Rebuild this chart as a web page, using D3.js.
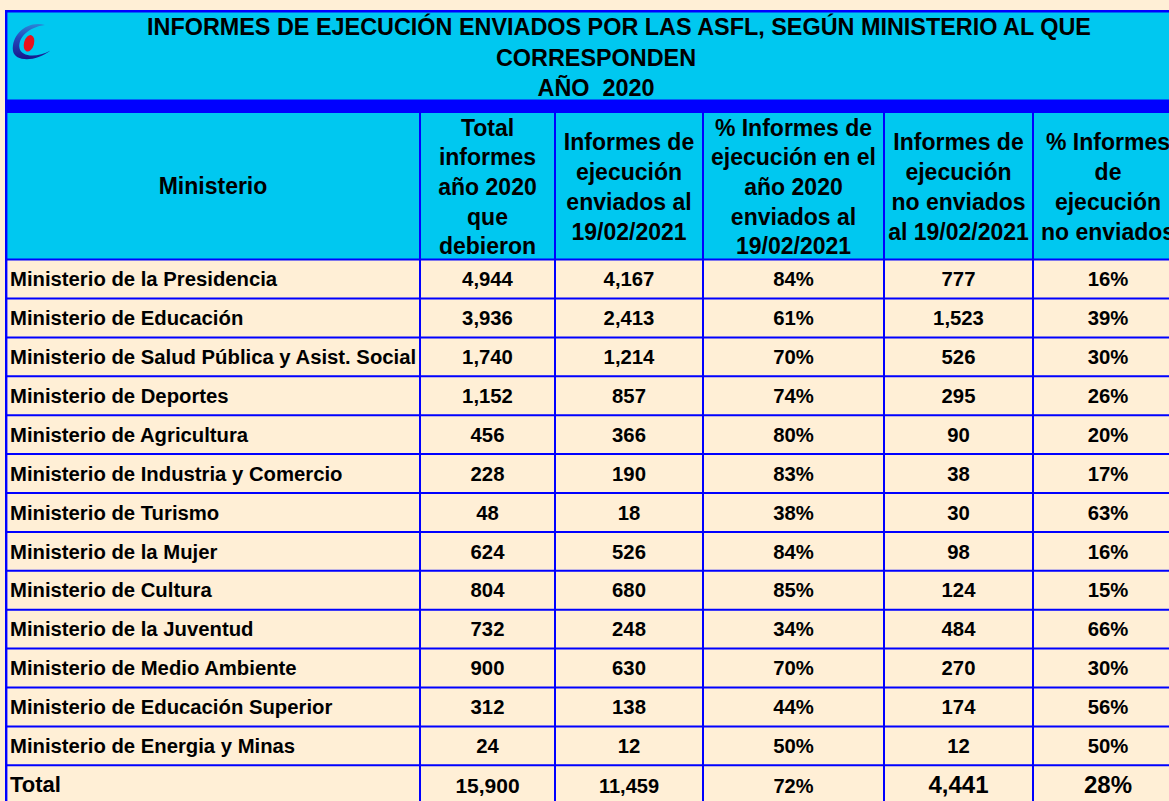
<!DOCTYPE html>
<html>
<head>
<meta charset="utf-8">
<script src="https://cdn.jsdelivr.net/npm/d3@7"></script>
<style>
body{
	margin:0;
	background-color:#ffefd6;
}
svg{display:block;}
text{font-family:"Liberation Sans",Arial,sans-serif;font-weight:bold;fill:#000;}
</style>
</head>
<body>
<div id="chart"></div>
<script>
var ministerios = [
	"Ministerio de la Presidencia",
	"Ministerio de Educación",
	"Ministerio de Salud Pública y Asist. Social",
	"Ministerio de Deportes",
	"Ministerio de Agricultura",
	"Ministerio de Industria y Comercio",
	"Ministerio de Turismo",
	"Ministerio de la Mujer",
	"Ministerio de Cultura",
	"Ministerio de la Juventud",
	"Ministerio de Medio Ambiente",
	"Ministerio de Educación Superior",
	"Ministerio de Energia y Minas"
];
var totalInformes = [4944, 3936, 1740, 1152, 456, 228, 48, 624, 804, 732, 900, 312, 24];
var enviados      = [4167, 2413, 1214, 857, 366, 190, 18, 526, 680, 248, 630, 138, 12];
var pctEnviados   = [84, 61, 70, 74, 80, 83, 38, 84, 85, 34, 70, 44, 50];
var noEnviados    = [777, 1523, 526, 295, 90, 38, 30, 98, 124, 484, 270, 174, 12];
var pctNoEnviados = [16, 39, 30, 26, 20, 17, 63, 16, 15, 66, 30, 56, 50];
var totales = {label:"Total", total:15900, enviados:11459, pct:72, no:4441, pctNo:28};

var titulo = [
	"INFORMES DE EJECUCIÓN ENVIADOS POR LAS ASFL, SEGÚN MINISTERIO AL QUE",
	"CORRESPONDEN",
	"AÑO  2020"
];
var encabezados = [
	["Ministerio"],
	["Total", "informes", "año 2020", "que", "debieron"],
	["Informes de", "ejecución", "enviados al", "19/02/2021"],
	["% Informes de", "ejecución en el", "año 2020", "enviados al", "19/02/2021"],
	["Informes de", "ejecución", "no enviados", "al 19/02/2021"],
	["% Informes", "de", "ejecución", "no enviados"]
];

var W = 1169, H = 801;
var BLUE = "#0000ff", CYAN = "#00c8f0", CREAM = "#ffefd6";
var colEdges = [6, 420, 555, 703, 884, 1033, 1183];
var headTop = 113, headBottom = 259.6, rowH = 38.9;

var fmt = d3.format(",");
var pct = function(v){ return v + "%"; };

var rows = ministerios.map(function(m, i){
	return {label:m, cells:[fmt(totalInformes[i]), fmt(enviados[i]), pct(pctEnviados[i]), fmt(noEnviados[i]), pct(pctNoEnviados[i])], total:false};
});
rows.push({label:totales.label, cells:[fmt(totales.total), fmt(totales.enviados), pct(totales.pct), fmt(totales.no), pct(totales.pctNo)], total:true});

var y = d3.scaleBand()
	.domain(d3.range(rows.length))
	.range([headBottom, headBottom + rows.length * rowH]);

var svg = d3.select("#chart").append("svg")
	.attr("width", W)
	.attr("height", H);

svg.append("rect").attr("width", W).attr("height", H).attr("fill", CREAM);

// title block
svg.append("rect")
	.attr("x", colEdges[0]).attr("y", 11)
	.attr("width", W).attr("height", 89)
	.attr("fill", CYAN);
svg.append("rect")
	.attr("x", colEdges[0]).attr("y", 99.5)
	.attr("width", W).attr("height", 13.5)
	.attr("fill", BLUE);
svg.append("line")
	.attr("x1", colEdges[0]).attr("x2", W)
	.attr("y1", 11.3).attr("y2", 11.3)
	.attr("stroke", BLUE).attr("stroke-width", 2.6);

var titleX = [619, 596, 596], titleY = [34.7, 65.7, 95.7];
svg.selectAll("text.title").data(titulo).enter().append("text")
	.attr("class", "title")
	.attr("x", function(d, i){ return titleX[i]; })
	.attr("y", function(d, i){ return titleY[i]; })
	.attr("text-anchor", "middle")
	.style("font-size", "23.4px")
	.style("white-space", "pre")
	.text(function(d){ return d; });

// logo
var defs = svg.append("defs");
var grad = defs.append("linearGradient").attr("id", "swoosh")
	.attr("x1", 0).attr("y1", 0).attr("x2", 0).attr("y2", 1);
grad.append("stop").attr("offset", "0%").attr("stop-color", "#2a86d6");
grad.append("stop").attr("offset", "40%").attr("stop-color", "#2448bb");
grad.append("stop").attr("offset", "100%").attr("stop-color", "#17178a");
var logo = svg.append("g");
logo.append("path")
	.attr("d", "M45 25 C28 20 11 34 13 51 C15 62 36 62 50.5 50.5 C37 58 21 57 19.5 48 C18 37 29 27 45 25 Z")
	.attr("fill", "url(#swoosh)");
logo.append("ellipse")
	.attr("cx", 29).attr("cy", 43.3)
	.attr("rx", 5).attr("ry", 8.5)
	.attr("transform", "rotate(16,29,43.3)")
	.attr("fill", "#e8121c");

// header row
svg.append("rect")
	.attr("x", colEdges[0]).attr("y", headTop)
	.attr("width", colEdges[6] - colEdges[0]).attr("height", headBottom - headTop)
	.attr("fill", CYAN);

var lineGap = 29.7, headMid = 195;
encabezados.forEach(function(lines, c){
	var cx = (colEdges[c] + colEdges[c + 1]) / 2;
	var first = headMid - (lines.length - 1) * lineGap / 2;
	svg.append("text")
		.attr("text-anchor", "middle")
		.style("font-size", "23px")
		.selectAll("tspan").data(lines).enter().append("tspan")
		.attr("x", cx)
		.attr("y", function(d, i){ return (c === 0 ? 194 : first + i * lineGap); })
		.text(function(d){ return d; });
});

// body rows
var rowG = svg.selectAll("g.row").data(rows).enter().append("g")
	.attr("class", "row")
	.attr("transform", function(d, i){ return "translate(0," + y(i) + ")"; });

rowG.append("text")
	.attr("x", 10)
	.attr("y", y.bandwidth() / 2 + 7.2)
	.style("font-size", function(d){ return d.total ? "22px" : "20.3px"; })
	.text(function(d){ return d.label; });

var totalSizes = ["21px", "20px", "20px", "24px", "24px"];
rowG.each(function(r){
	d3.select(this).selectAll("text.cell").data(r.cells).enter().append("text")
		.attr("class", "cell")
		.attr("x", function(d, i){ return (colEdges[i + 1] + colEdges[i + 2]) / 2; })
		.attr("y", y.bandwidth() / 2 + (r.total ? 7.8 : 7.2))
		.attr("text-anchor", "middle")
		.style("font-size", function(d, i){ return r.total ? totalSizes[i] : "20.3px"; })
		.text(function(d){ return d; });
});

// grid
var gridBottom = H + 10;
var hLines = d3.range(rows.length).map(function(i){ return y(i); });
svg.selectAll("line.h").data(hLines).enter().append("line")
	.attr("class", "h")
	.attr("x1", colEdges[0]).attr("x2", colEdges[6])
	.attr("y1", function(d){ return d; })
	.attr("y2", function(d){ return d; })
	.attr("stroke", BLUE).attr("stroke-width", 2);
svg.selectAll("line.v").data(colEdges.slice(1)).enter().append("line")
	.attr("class", "v")
	.attr("x1", function(d){ return d; }).attr("x2", function(d){ return d; })
	.attr("y1", headTop).attr("y2", gridBottom)
	.attr("stroke", BLUE).attr("stroke-width", 2);
svg.append("line")
	.attr("x1", 6.2).attr("x2", 6.2)
	.attr("y1", 10).attr("y2", gridBottom)
	.attr("stroke", BLUE).attr("stroke-width", 2.4);
</script>
</body>
</html>
